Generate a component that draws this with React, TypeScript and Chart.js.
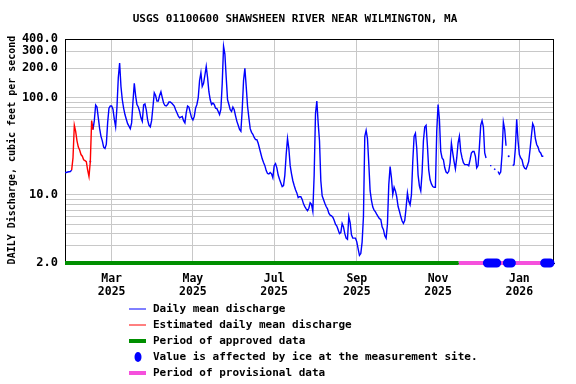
import React, { useEffect, useRef } from "react";
import { Chart, registerables } from "chart.js";

Chart.register(...registerables);

const TITLE = "USGS 01100600 SHAWSHEEN RIVER NEAR WILMINGTON, MA";
const Y_LABEL = "DAILY Discharge, cubic feet per second";
// day 0 = 2025-01-25
const X_MAX_DAY = 367;
const monthTickDays = [35, 96, 157, 219, 280, 341];
const monthTickLabels = [
  ["Mar", "2025"],
  ["May", "2025"],
  ["Jul", "2025"],
  ["Sep", "2025"],
  ["Nov", "2025"],
  ["Jan", "2026"],
];
const yGridValues = [2, 3, 4, 5, 6, 7, 8, 9, 10, 20, 30, 40, 50, 60, 70, 80, 90, 100, 200, 300, 400];
const yLabeledValues = [2, 10, 100, 200, 300, 400];

const dailyMean: (number | null)[] = [
  17, 17, 17.2, 17.3, 17.4, 18, 24, 52, 45, 36,
  31, 29, 26, 25, 23, 22.5, 22, 18, 15.5, 22,
  58, 47, 58, 84, 80, 62, 48, 40, 36, 31,
  30, 33, 55, 78, 82, 82, 76, 60, 50, 80,
  160, 227, 130, 95, 78, 67, 60, 54, 51, 48,
  55, 90, 140, 105, 85, 80, 72, 62, 57, 84,
  86, 75, 59, 52, 50, 58, 80, 112, 105, 92,
  92, 105, 115, 100, 88, 83, 82, 85, 90, 90,
  88, 85, 82, 75, 70, 65, 62, 63, 64, 58,
  55, 70, 82, 80, 70, 62, 59, 64, 78, 85,
  100, 150, 180, 130, 140, 170, 209, 161, 115, 95,
  85, 88, 85, 78, 77, 72, 67, 76, 140, 336,
  280, 160, 95, 85, 75, 72, 80, 75, 65, 57,
  52, 47, 45, 75, 150, 200, 130, 82, 62, 48,
  44, 42, 39, 37, 37, 34, 30, 26.5, 23.5, 21.5,
  20, 17.8, 16.6, 16.4, 17, 16.5, 15, 20, 21, 19,
  16, 14.5, 13.3, 12.2, 12.5, 16, 26, 38, 30, 20,
  16.5, 14, 12.5, 11.3, 10.5, 9.4, 9.6, 9.6, 9.0, 8.1,
  7.6, 7.2, 6.9, 7.3, 8.3, 8.0, 6.8, 16, 68, 92,
  55, 36, 14, 9.8, 9, 8.2, 7.6, 7.2, 6.5, 6.2,
  6.1, 5.9, 5.5, 5.0, 4.8, 4.4, 4.0, 4.1, 5.1, 4.7,
  4.0, 3.6, 3.5, 6.0, 5.2, 3.9, 3.6, 3.6, 3.6, 3.3,
  2.8, 2.4, 2.5, 3.3, 6, 40, 46, 38, 21, 11,
  8.8, 7.5, 7.0, 6.7, 6.3, 6.0, 5.7, 5.6, 4.7, 4.4,
  3.8, 3.6, 5, 12.7, 19.6, 15, 10.1, 12, 11, 9.5,
  7.6, 6.8, 6.0, 5.4, 5.1, 5.5, 7.4, 10.5, 8.6, 7.9,
  10, 22, 40, 43, 30, 16, 12.3, 11, 17, 36,
  50, 52, 32, 18, 14.3, 13, 12.2, 12, 12, 45,
  85, 60, 28, 24, 23, 19, 17.2, 16.7, 17.5, 21.3,
  34, 27, 22, 18.5, 24, 34, 40, 28, 24, 21.5,
  20.5, 20.5, 20.5, 20, 23, 27, 28, 28, 25, 19,
  20, 31, 52, 58, 50, 27, 24, null, null, 20,
  20, null, 18.6, 18.2, null, 17.4, 16.4, 17.2, 26, 56,
  47, 32, null, 25, null, null, 20, 20.5, 30, 60,
  36, 26, 24, 23, 20, 18.8, 18.5, 20, 22, 29,
  40, 54, 50, 38, 33, 31, 28, 27, 25, 25,
];
const estimatedDays = [6, 7, 8, 9, 10, 11, 12, 13, 14, 15, 16, 17, 18, 20];
const approvedRange = [0, 295.4];
const provisionalRange = [295.4, 367];
const iceRanges = [
  [317, 324],
  [332, 335],
  [360, 364],
];

const BLUE = "#0000ff";
const RED = "#ff0000";
const GREEN = "#008f00";
const PINK = "#f550dc";
const GRID = "#c8c8c8";
const MONO = '"DejaVu Sans Mono", "Liberation Mono", monospace';

const legendItems = [
  { kind: "line", color: BLUE, width: 1, text: "Daily mean discharge" },
  { kind: "line", color: RED, width: 1, text: "Estimated daily mean discharge" },
  { kind: "line", color: GREEN, width: 4, text: "Period of approved data" },
  { kind: "dot", color: BLUE, width: 0, text: "Value is affected by ice at the measurement site." },
  { kind: "line", color: PINK, width: 4, text: "Period of provisional data" },
];

export default function App() {
  const ref = useRef<HTMLCanvasElement>(null);
  useEffect(() => {
    document.body.style.margin = "0";
    const canvas = ref.current;
    if (!canvas) return;
    const isEst = (i: number) => estimatedDays.includes(i);
    const blue = dailyMean.map((v, i) => ({ x: i, y: isEst(i) ? null : v }));
    const red = dailyMean.map((v, i) => ({
      x: i,
      y: isEst(i) || isEst(i - 1) || isEst(i + 1) ? v : null,
    }));
    const ice: { x: number; y: number | null }[] = [];
    iceRanges.forEach(([a, b], k) => {
      if (k > 0) ice.push({ x: a - 0.5, y: null });
      for (let d = a; d <= b; d++) ice.push({ x: d, y: 2 });
    });

    const decor = {
      id: "decor",
      beforeDatasetsDraw(chart: any) {
        const { ctx, chartArea: a } = chart;
        ctx.save();
        ctx.strokeStyle = "#000";
        ctx.lineWidth = 1;
        ctx.strokeRect(a.left + 0.5, a.top + 0.5, a.right - a.left - 1, a.bottom - a.top);
        ctx.restore();
      },
      afterDraw(chart: any) {
        const { ctx } = chart;
        ctx.save();
        ctx.fillStyle = "#000";
        ctx.font = `bold 11px ${MONO}`;
        ctx.textAlign = "center";
        ctx.textBaseline = "middle";
        ctx.fillText(TITLE, 295, 19);
        ctx.save();
        ctx.translate(12, 150);
        ctx.rotate(-Math.PI / 2);
        ctx.font = `bold 10px ${MONO}`;
        ctx.fillText(Y_LABEL, 0, 0);
        ctx.restore();
        ctx.font = `bold 11px ${MONO}`;
        ctx.textAlign = "left";
        legendItems.forEach((it, i) => {
          const y = 309 + i * 16;
          if (it.kind === "line") {
            ctx.strokeStyle = it.color;
            ctx.lineWidth = it.width;
            ctx.beginPath();
            ctx.moveTo(129, y);
            ctx.lineTo(146, y);
            ctx.stroke();
          } else {
            ctx.fillStyle = it.color;
            ctx.beginPath();
            ctx.ellipse(138, y, 3.5, 5, 0, 0, Math.PI * 2);
            ctx.fill();
          }
          ctx.fillStyle = "#000";
          ctx.fillText(it.text, 153, y + 0.5);
        });
        ctx.restore();
      },
    };

    const chart = new Chart(canvas, {
      type: "line",
      data: {
        datasets: [
          {
            label: "ice",
            data: ice,
            borderColor: BLUE,
            borderWidth: 9,
            borderCapStyle: "round",
            pointRadius: 0,
            spanGaps: false,
            clip: false,
            order: 0,
          } as any,
          {
            label: "Estimated daily mean discharge",
            data: red,
            borderColor: RED,
            borderWidth: 1.4,
            pointRadius: 0,
            spanGaps: false,
            order: 1,
          },
          {
            label: "Daily mean discharge",
            data: blue,
            borderColor: BLUE,
            backgroundColor: BLUE,
            borderWidth: 1.4,
            pointRadius: (c: any) => {
              const i = c.dataIndex;
              const v = blue[i]?.y;
              if (v == null) return 0;
              const p = blue[i - 1]?.y;
              const n = blue[i + 1]?.y;
              return p == null && n == null ? 1 : 0;
            },
            pointBorderWidth: 0,
            spanGaps: false,
            order: 2,
          } as any,
          {
            label: "approved",
            data: approvedRange.map((x) => ({ x, y: 2 })),
            borderColor: GREEN,
            borderWidth: 4,
            pointRadius: 0,
            clip: false,
            order: 3,
          } as any,
          {
            label: "provisional",
            data: provisionalRange.map((x) => ({ x, y: 2 })),
            borderColor: PINK,
            borderWidth: 4,
            pointRadius: 0,
            clip: false,
            order: 3,
          } as any,
        ],
      },
      options: {
        animation: false,
        responsive: false,
        events: [],
        layout: { padding: { left: 0, right: 22, top: 39, bottom: 0 } },
        plugins: { legend: { display: false }, tooltip: { enabled: false }, title: { display: false } },
        scales: {
          x: {
            type: "linear",
            min: 0,
            max: X_MAX_DAY,
            afterBuildTicks: (s: any) => {
              s.ticks = monthTickDays.map((v) => ({ value: v }));
            },
            afterFit: (s: any) => {
              s.height = 121;
            },
            ticks: {
              autoSkip: false,
              maxRotation: 0,
              padding: 9,
              color: "#000",
              font: { family: MONO, size: 11.5, weight: "bold", lineHeight: 1.15 },
              callback: (v: any) => {
                const i = monthTickDays.indexOf(Number(v));
                return i >= 0 ? monthTickLabels[i] : "";
              },
            },
            grid: { color: GRID, lineWidth: 1, drawTicks: false },
            border: { display: true, color: "#000", width: 1 },
          },
          y: {
            type: "logarithmic",
            min: 2,
            max: 400,
            afterBuildTicks: (s: any) => {
              s.ticks = yGridValues.map((v) => ({ value: v }));
            },
            afterFit: (s: any) => {
              s.width = 65;
            },
            ticks: {
              autoSkip: false,
              padding: 7,
              color: "#000",
              font: { family: MONO, size: 12, weight: "bold" },
              callback: (v: any) => (yLabeledValues.includes(Number(v)) ? Number(v).toFixed(1) : ""),
            },
            grid: { color: GRID, lineWidth: 1, drawTicks: false },
            border: { display: true, color: "#000", width: 1 },
          },
        },
      },
      plugins: [decor],
    } as any);
    return () => chart.destroy();
  }, []);
  return (
    <div style={{ width: 576, height: 384 }}>
      <canvas ref={ref} width={576} height={384} style={{ display: "block" }} />
    </div>
  );
}
